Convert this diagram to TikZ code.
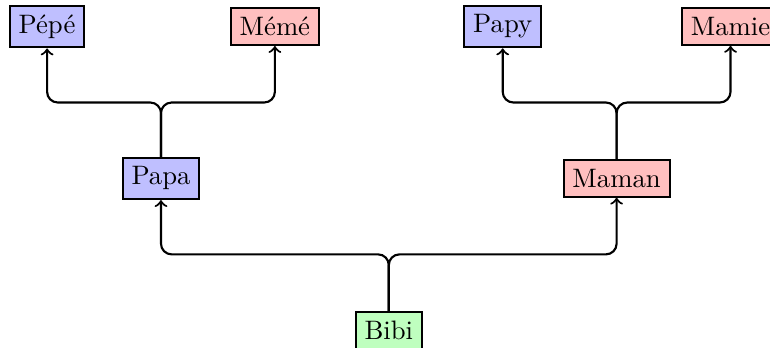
\documentclass[tikz,border=0pt]{standalone}
\usepackage{fontspec}
\usepackage{tikz}
\usetikzlibrary{calc}

\begin{document}
\begin{tikzpicture}[
  pers/.style={rectangle, draw, thick},
  lien/.style={->, thick, rounded corners}
]
\useasboundingbox (-5.12,-0.22) rectangle (5.02,4.35);

\node[pers, fill=green!25] at (0,0)    (bibi)  {Bibi};

\node[pers, fill=blue!25]  at (-3,2)   (papa)  {Papa};
\node[pers, fill=red!25]   at (3,2)    (maman) {Maman};

\node[pers, fill=blue!25]  at (-4.5,4) (pepe)  {Pépé};
\node[pers, fill=red!25]   at (-1.5,4) (meme)  {Mémé};
\node[pers, fill=blue!25]  at (1.5,4)  (papy)  {Papy};
\node[pers, fill=red!25]   at (4.5,4)  (mamie) {Mamie};

\draw[lien] (bibi) |- ($(bibi)!0.5!(papa)$) -| (papa);
\draw[lien] (bibi) |- ($(bibi)!0.5!(maman)$) -| (maman);
\draw[lien] (papa) |- ($(papa)!0.5!(pepe)$) -| (pepe);
\draw[lien] (papa) |- ($(papa)!0.5!(meme)$) -| (meme);
\draw[lien] (maman) |- ($(maman)!0.5!(papy)$) -| (papy);
\draw[lien] (maman) |- ($(maman)!0.5!(mamie)$) -| (mamie);
\end{tikzpicture}
\end{document}
